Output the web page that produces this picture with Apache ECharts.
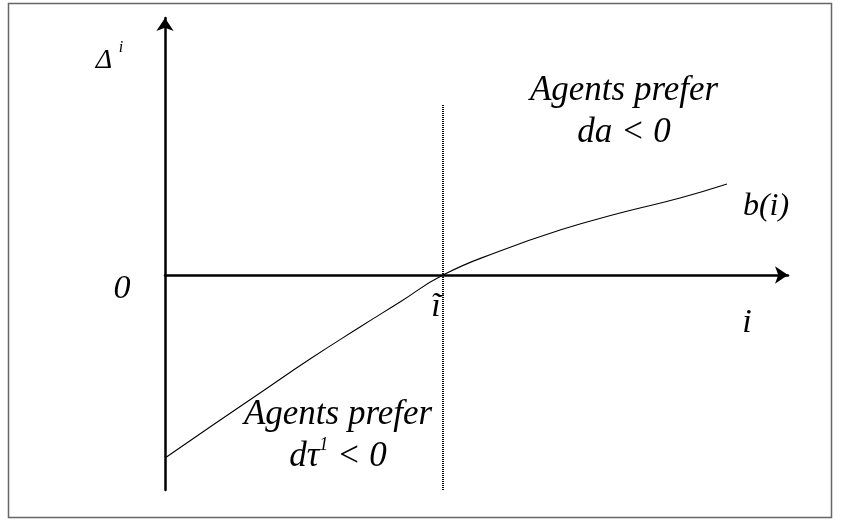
<!DOCTYPE html>
<html>
<head>
<meta charset="utf-8">
<script src="https://cdn.jsdelivr.net/npm/echarts@6/dist/echarts.min.js"></script>
<style>
  html, body { margin: 0; padding: 0; background: #fff; }
  #chart { width: 842px; height: 521px; }
</style>
</head>
<body>
<div id="chart"></div>
<script>
// curve b(i), in diagram units (origin where the axes cross)
const curveI = [0, 45, 95, 145, 195, 235, 278, 335, 395, 455, 515, 562];
const curveB = [-183, -152, -118, -84, -52, -27, 0, 24, 45, 62, 77, 91];
// threshold i~ and the extent of its dotted marker
const iTilde = 278;
const markerSpan = [170, -215];
// axis extents
const xRange = [0, 623];
const yRange = [-215, 257];

const serif = "'Liberation Serif', 'Times New Roman', serif";

const curveData = curveI.map((v, k) => [v, curveB[k]]);
const markerData = markerSpan.map(v => [iTilde, v]);

function txt(x, y, text, size, align) {
  return {
    type: 'text', x: x, y: y, silent: true,
    style: {
      text: text, fill: '#000', font: 'italic ' + size + 'px ' + serif,
      align: align || 'center', verticalAlign: 'middle'
    }
  };
}

const myChart = echarts.init(document.getElementById('chart'));
const option = {
  animation: false,
  backgroundColor: '#fff',
  grid: { left: 165, right: 54, top: 18, bottom: 31 },
  xAxis: {
    type: 'value', min: xRange[0], max: xRange[1],
    axisLine: {
      onZero: true,
      lineStyle: { color: '#000', width: 2.5 },
      symbol: ['none', 'arrow'], symbolSize: [13, 13]
    },
    axisTick: { show: false }, axisLabel: { show: false }, splitLine: { show: false }
  },
  yAxis: {
    type: 'value', min: yRange[0], max: yRange[1],
    axisLine: {
      onZero: false,
      lineStyle: { color: '#000', width: 2.5 },
      symbol: ['none', 'arrow'], symbolSize: [13, 13]
    },
    axisTick: { show: false }, axisLabel: { show: false }, splitLine: { show: false }
  },
  series: [
    {
      type: 'line', data: curveData, smooth: 0.5, showSymbol: false,
      lineStyle: { color: '#000', width: 1.1 }, z: 3
    },
    {
      type: 'line', data: markerData, showSymbol: false,
      lineStyle: { color: '#000', width: 2, type: [1, 1] }, z: 2
    }
  ],
  graphic: [
    { type: 'rect', silent: true, shape: { x: 8.5, y: 3.5, width: 823, height: 514 },
      style: { fill: 'none', stroke: '#666', lineWidth: 1.5 }, z: -1 },
    txt(104, 61, 'Δ', 28),
    txt(121, 48, 'i', 16),
    txt(122, 289, '0', 34),
    txt(436, 307, 'ĩ', 34),
    txt(747, 323, 'i', 34),
    txt(766, 207, 'b(i)', 32),
    {
      type: 'text', x: 624, y: 112, silent: true,
      style: {
        text: 'Agents prefer\nda < 0', fill: '#000', font: 'italic 35px ' + serif,
        align: 'center', verticalAlign: 'middle', lineHeight: 42
      }
    },
    {
      type: 'text', x: 338, y: 436, silent: true,
      style: {
        text: '{m|Agents prefer}\n{m|dτ}{s|1}{m| < 0}', fill: '#000',
        align: 'center', verticalAlign: 'middle',
        rich: {
          m: { font: 'italic 35px ' + serif, lineHeight: 42 },
          s: { font: 'italic 18px ' + serif, verticalAlign: 'top', lineHeight: 42 }
        }
      }
    }
  ]
};
myChart.setOption(option);
</script>
</body>
</html>
